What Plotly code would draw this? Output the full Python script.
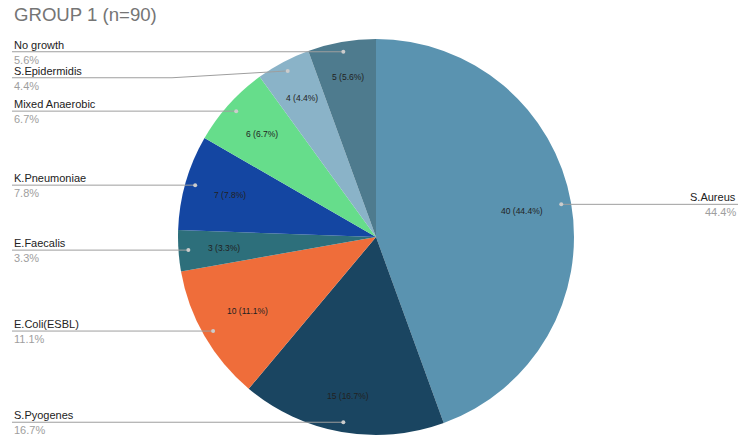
import math
import plotly.graph_objects as go

# ---- data ----
labels = ["S.Aureus", "S.Pyogenes", "E.Coli(ESBL)", "E.Faecalis",
          "K.Pneumoniae", "Mixed Anaerobic", "S.Epidermidis", "No growth"]
values = [40, 15, 10, 3, 7, 6, 4, 5]
colors = ["#5a93b0", "#1a4561", "#ef6d3a", "#2d6f7b",
          "#1446a2", "#66dd8b", "#8ab3c8", "#4e7b8e"]
title = "GROUP 1 (n=90)"

# ---- layout constants (pixels) ----
W, H = 750, 440
CX, CY, R = 376, 237, 198
FONT = "Arial, Liberation Sans, sans-serif"


def px(x):
    return x / W


def py(y):
    return 1 - y / H


total = sum(values)
fig = go.Figure(go.Pie(
    labels=labels, values=values, sort=False, direction="clockwise",
    rotation=0, marker=dict(colors=colors, line=dict(width=0)),
    textinfo="none", hoverinfo="label+value+percent", showlegend=False,
    domain=dict(x=[(CX - R) / W, (CX + R) / W],
                y=[1 - (CY + R) / H, 1 - (CY - R) / H]),
))

annotations = []
shapes = []

annotations.append(dict(text=title, x=px(12), y=py(15), xref="paper", yref="paper",
                        xanchor="left", yanchor="middle", showarrow=False,
                        font=dict(family=FONT, size=18.6, color="#757575")))

# compute slice mid angles
items = []
cum = 0
for lab, v in zip(labels, values):
    mid = (cum + v / 2) / total * 2 * math.pi
    cum += v
    s, c = math.sin(mid), math.cos(mid)
    # inside label
    txt = f"{v} ({v / total * 100:.1f}%)"
    hw, hh = len(txt) * 4.4 / 2, 5
    r_in = 0.86 * R - (hw * abs(s) + hh * abs(c))
    annotations.append(dict(text=txt, x=px(CX + s * r_in), y=py(CY - c * r_in),
                            xref="paper", yref="paper", showarrow=False,
                            xanchor="center", yanchor="middle",
                            font=dict(family=FONT, size=8.5, color="#222222")))
    dx, dy = CX + s * 0.95 * R, CY - c * 0.95 * R
    items.append(dict(label=lab, pct=f"{v / total * 100:.1f}%", dx=dx, dy=dy,
                      side="right" if s > 0 else "left"))

LINE = "#9e9e9e"
for side in ("left", "right"):
    grp = sorted([it for it in items if it["side"] == side], key=lambda d: d["dy"])
    prev = -1e9
    for it in grp:
        ly = max(it["dy"], prev + 26)
        prev = ly
        if side == "left":
            x0, x1, xa, xt = 12, 172, "left", 12
        else:
            x0, x1, xa, xt = 578, 738, "right", 738
        shapes.append(dict(type="line", xref="paper", yref="paper",
                           x0=px(x0), x1=px(x1), y0=py(ly), y1=py(ly),
                           line=dict(color=LINE, width=1)))
        bx = x1 if side == "left" else x0
        shapes.append(dict(type="line", xref="paper", yref="paper",
                           x0=px(bx), x1=px(it["dx"]), y0=py(ly), y1=py(it["dy"]),
                           line=dict(color=LINE, width=1), layer="above"))
        shapes.append(dict(type="circle", xref="paper", yref="paper",
                           x0=px(it["dx"] - 2), x1=px(it["dx"] + 2),
                           y0=py(it["dy"] - 2), y1=py(it["dy"] + 2),
                           fillcolor="#cccccc", line=dict(width=0), layer="above"))
        annotations.append(dict(text=it["label"], x=px(xt), y=py(ly - 7),
                                xref="paper", yref="paper", showarrow=False,
                                xanchor=xa, yanchor="middle",
                                font=dict(family=FONT, size=11, color="#222222")))
        annotations.append(dict(text=it["pct"], x=px(xt), y=py(ly + 8),
                                xref="paper", yref="paper", showarrow=False,
                                xanchor=xa, yanchor="middle",
                                font=dict(family=FONT, size=11, color="#9e9e9e")))

fig.update_layout(width=W, height=H, margin=dict(l=0, r=0, t=0, b=0),
                  paper_bgcolor="white", plot_bgcolor="white",
                  annotations=annotations, shapes=shapes)
fig.write_html("out.html")
